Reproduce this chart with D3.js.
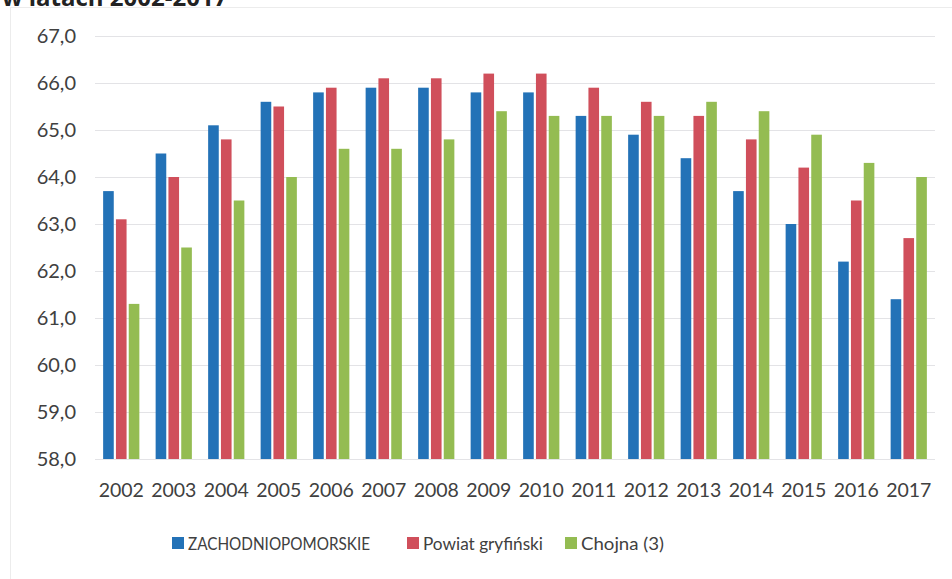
<!DOCTYPE html>
<html><head><meta charset="utf-8">
<script src="https://cdn.jsdelivr.net/npm/d3@7"></script>
<style>body{margin:0;background:#fff;} svg{display:block;}</style>
</head><body><svg id="c" width="952" height="579"></svg>
<script>
const years = ["2002","2003","2004","2005","2006","2007","2008","2009","2010","2011","2012","2013","2014","2015","2016","2017"];
const seriesNames = ["ZACHODNIOPOMORSKIE","Powiat gryfiński","Chojna (3)"];
const zachodniopomorskie = [63.7,64.5,65.1,65.6,65.8,65.9,65.9,65.8,65.8,65.3,64.9,64.4,63.7,63.0,62.2,61.4];
const powiatGryfinski   = [63.1,64.0,64.8,65.5,65.9,66.1,66.1,66.2,66.2,65.9,65.6,65.3,64.8,64.2,63.5,62.7];
const chojna            = [61.3,62.5,63.5,64.0,64.6,64.6,64.8,65.4,65.3,65.3,65.3,65.6,65.4,64.9,64.3,64.0];
const yTicks = [58,59,60,61,62,63,64,65,66,67];
const colors = ["#2372b7","#d04f5b","#94bc52"];
const title = "w latach 2002-2017";

const svg = d3.select("#c");
const font = "Lato, 'Open Sans', sans-serif";

// faint chart border
svg.append("rect").attr("x",10.5).attr("y",7.5).attr("width",960).attr("height",600)
  .attr("fill","none").attr("stroke","#ececec");

svg.append("text").attr("x",2).attr("y",6).attr("font-family","'Open Sans', sans-serif")
  .attr("font-weight","bold").attr("font-size",24).attr("fill","#222").text(title);

const y = d3.scaleLinear().domain([58,67]).range([459,36]);
const x0 = d3.scaleBand().domain(years).range([95,935]).paddingInner(0.31).paddingOuter(0.155);
const x1 = d3.scaleBand().domain([0,1,2]).range([0,x0.bandwidth()]).paddingInner(0.17);

// gridlines
svg.append("g").selectAll("line").data(yTicks).join("line")
  .attr("x1",95).attr("x2",935).attr("y1",d=>y(d)+0.5).attr("y2",d=>y(d)+0.5)
  .attr("stroke","#e3e3e6").attr("stroke-width",1.2);

// y axis labels
const yAxis = d3.axisLeft(y).tickValues(yTicks).tickSize(0).tickPadding(0)
  .tickFormat(d=>d.toFixed(1).replace(".",","));
const ya = svg.append("g").attr("transform","translate(76,0)").call(yAxis);
ya.select(".domain").remove();
ya.selectAll("text").attr("font-family",font).attr("font-size",20).attr("fill","#404040");

// bars
const data = [zachodniopomorskie, powiatGryfinski, chojna];
const g = svg.append("g");
years.forEach((yr,i)=>{
  const gg = g.append("g").attr("transform",`translate(${x0(yr)},0)`);
  gg.selectAll("rect").data(data.map((s,k)=>({k,v:s[i]}))).join("rect")
    .attr("x",d=>x1(d.k)).attr("width",x1.bandwidth())
    .attr("y",d=>y(d.v)).attr("height",d=>y(58)-y(d.v))
    .attr("fill",d=>colors[d.k]);
});

// x axis labels
const xAxis = d3.axisBottom(x0).tickSize(0).tickPadding(0);
const xa = svg.append("g").attr("transform","translate(0,483)").call(xAxis);
xa.select(".domain").remove();
xa.selectAll("text").attr("font-family",font).attr("font-size",19.5).attr("fill","#404040");

// legend
const legX = [172,407,565];
const legW = [182,120,83];
const leg = svg.append("g");
seriesNames.forEach((n,k)=>{
  leg.append("rect").attr("x",legX[k]).attr("y",537).attr("width",12).attr("height",12).attr("fill",colors[k]);
  leg.append("text").attr("x",legX[k]+16).attr("y",550).attr("font-family",font)
    .attr("font-size",18).attr("fill","#404040")
    .attr("textLength",legW[k]).attr("lengthAdjust","spacingAndGlyphs").text(n);
});
</script></body></html>
